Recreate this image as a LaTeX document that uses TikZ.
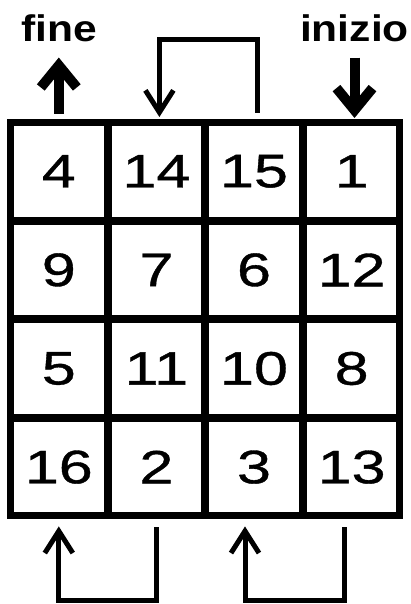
\documentclass[tikz,border=0pt]{standalone}
\usepackage{fontspec}
\usepackage{tikz}
\usetikzlibrary{positioning,arrows.meta,fit}
\newfontfamily\cellfont[FakeStretch=1.3,FakeBold=0.8]{Liberation Sans}
\newfontfamily\tagfont[FakeStretch=1.15]{Liberation Sans}
\definecolor{ink}{HTML}{000000}
\tikzset{
  cell/.style={rectangle, draw=ink, line width=4pt, inner sep=0pt,
               minimum width=93.6pt, minimum height=94.6pt,
               font=\cellfont\fontsize{47}{50}\selectfont},
  frame/.style={rectangle, draw=ink, line width=6pt, inner sep=0pt},
  tag/.style={inner sep=0pt, anchor=base,
              font=\tagfont\bfseries\fontsize{37}{40}\selectfont},
  bigflow/.style={-{Straight Barb[length=22pt,width=36pt]}, line width=10pt, draw=ink},
  jump/.style={-{Straight Barb[length=22pt,width=28pt]}, line width=5pt, draw=ink}
}
\begin{document}
\begin{tikzpicture}[x=1pt, y=1pt, node distance=0pt and 0pt]
\useasboundingbox (0,0) rectangle (411,-604);
\node[cell] (a1) at (58.8,-171.3) {4};
\node[cell, right=of a1] (a2) {14};
\node[cell, right=of a2] (a3) {15};
\node[cell, right=of a3] (a4) {1};
\node[cell, below=of a1] (b1) {9};
\node[cell, right=of b1] (b2) {7};
\node[cell, right=of b2] (b3) {6};
\node[cell, right=of b3] (b4) {12};
\node[cell, below=of b1] (c1) {5};
\node[cell, right=of c1] (c2) {11};
\node[cell, right=of c2] (c3) {10};
\node[cell, right=of c3] (c4) {8};
\node[cell, below=of c1] (d1) {16};
\node[cell, right=of d1] (d2) {2};
\node[cell, right=of d2] (d3) {3};
\node[cell, right=of d3] (d4) {13};
\node[frame, fit=(a1)(d4)] (grid) {};
\node[tag] (fine) at (59.5,-42) {fine};
\node[tag] (inizio) at (354.5,-42) {inizio};
\draw[bigflow, shorten <=8pt, shorten >=15pt] (a1.north) -- (a1.north |- fine.south);
\draw[bigflow, shorten <=15pt, shorten >=4pt] (inizio.south) -- (inizio.south |- a4.north);
\draw[jump, shorten <=9pt, shorten >=5pt] ([xshift=3pt]a3.north) -- ++(0,82) -| ([xshift=3pt]a2.north);
\draw[jump, shorten <=11pt, shorten >=10pt] (d2.south) -- ++(0,-84) -| (d1.south);
\draw[jump, shorten <=11pt, shorten >=10pt] ([xshift=-7pt]d4.south) -- ++(0,-84) -| ([xshift=-9pt]d3.south);
\end{tikzpicture}
\end{document}
